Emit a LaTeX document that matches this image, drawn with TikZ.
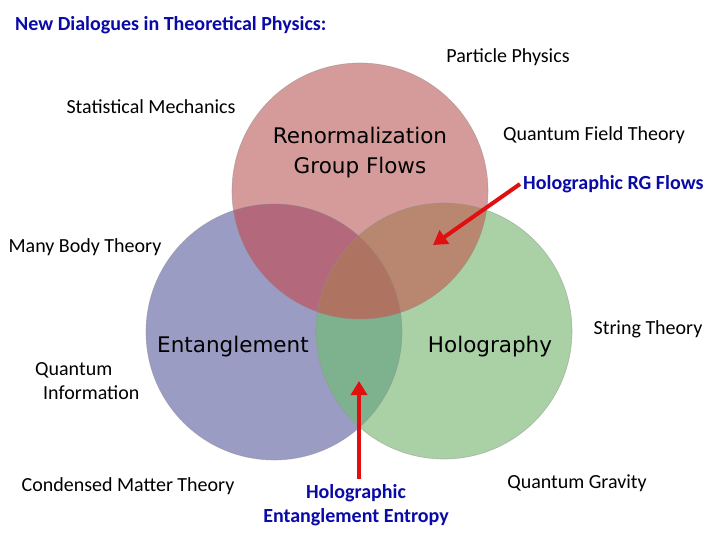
\documentclass[tikz,border=0pt]{standalone}
\usepackage{fontspec}
\setmainfont{Carlito}
\newfontfamily\comicfont{DejaVu Sans}
\usetikzlibrary{arrows.meta}
\definecolor{rc}{HTML}{D59B9B}
\definecolor{bc}{HTML}{9A9CC4}
\definecolor{gc}{HTML}{A9D1A5}
\definecolor{rbc}{HTML}{B3687B}
\definecolor{rgc}{HTML}{B98670}
\definecolor{bgc}{HTML}{7EB28E}
\definecolor{rbgc}{HTML}{AF7461}
\definecolor{ttl}{HTML}{0A0AA8}
\definecolor{arr}{HTML}{E01010}
\tikzset{
  lab/.style={font=\fontsize{20}{24}\selectfont, text=black, inner sep=0pt, align=left},
  blab/.style={font=\fontsize{20}{24}\selectfont\bfseries, text=ttl, inner sep=0pt, align=center},
  big/.style={font=\comicfont\fontsize{21.5}{30}\selectfont, text=black, inner sep=0pt, align=center},
  redarrow/.style={draw=arr, line width=4pt, -{Triangle[length=14pt,width=16pt]}},
  edge/.style={draw=black!45, line width=0.6pt, opacity=0.5}
}
\begin{document}
\begin{tikzpicture}[x=1pt,y=-1pt]
\useasboundingbox[fill=white] (0,0) rectangle (720,540);
\coordinate (R) at (360,191);
\coordinate (B) at (274,332);
\coordinate (G) at (444,331);
\def\rr{128}
% base circles
\fill[rc] (R) circle (\rr);
\fill[bc] (B) circle (\rr);
\fill[gc] (G) circle (\rr);
% blue-green
\begin{scope}
  \clip (B) circle (\rr);
  \fill[bgc] (G) circle (\rr);
\end{scope}
% red overlaps
\begin{scope}
  \clip (R) circle (\rr);
  \fill[rbc] (B) circle (\rr);
  \fill[rgc] (G) circle (\rr);
  \clip (B) circle (\rr);
  \fill[rbgc] (G) circle (\rr);
\end{scope}
\draw[edge] (B) circle (\rr);
\draw[edge] (G) circle (\rr);
\draw[edge] (R) circle (\rr);

% texts
\node[blab, anchor=west] (title) at (15,25) {New Dialogues in Theoretical Physics:};
\node[lab] (pp) at (508,57) {Particle Physics};
\node[lab] (sm) at (151,107) {Statistical Mechanics};
\node[big] (rg) at (360,153) {Renormalization\\Group Flows};
\node[lab] (qft) at (594,135) {Quantum Field Theory};
\node[blab, anchor=west] (hrg) at (523,184) {Holographic RG Flows};
\node[lab] (mb) at (85,247) {Many Body Theory};
\node[big] (ent) at (233,347) {Entanglement};
\node[big] (holo) at (490,347) {Holography};
\node[lab] (st) at (648,329) {String Theory};
\node[lab, anchor=north west] (qi) at (35,362) {Quantum\\\hspace*{8pt}Information};
\node[lab] (cmt) at (128,486) {Condensed Matter Theory};
\node[blab] (hee) at (356,505) {Holographic\\Entanglement Entropy};
\node[lab] (qg) at (577,483) {Quantum Gravity};

\coordinate (a1) at (433,245);
\coordinate (a2) at (359,381);
\coordinate (s1) at (520,184);
\coordinate (s2) at (359,479);
\draw[redarrow] (s1) -- (a1);
\draw[redarrow] (s2) -- (a2);
\end{tikzpicture}
\end{document}
